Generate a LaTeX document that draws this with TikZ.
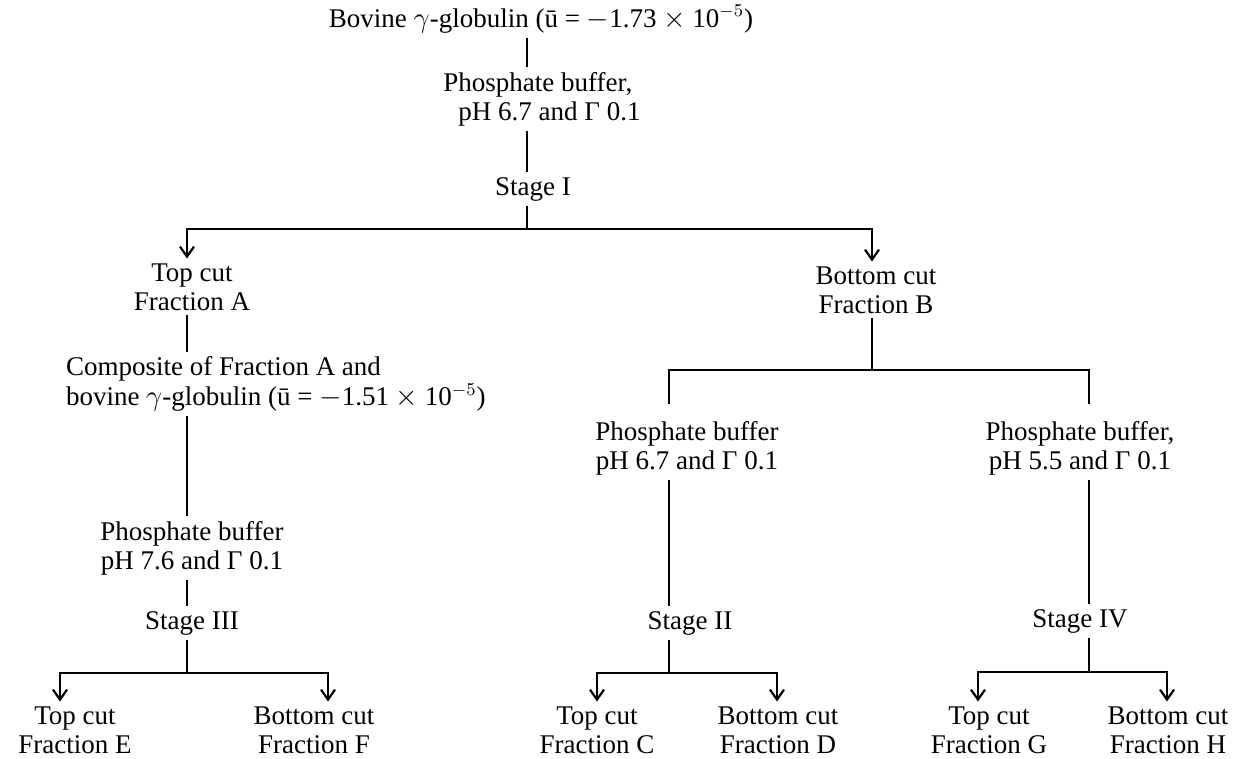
\documentclass[tikz,border=0pt]{standalone}
\usepackage{fontspec}
\setmainfont{Liberation Serif}
\usepackage{tikz}
\usetikzlibrary{arrows.meta}

\begin{document}
\begin{tikzpicture}[x=0.5pt, y=-0.5pt, line width=1pt,
        txt/.style={align=center, inner sep=2pt, font=\fontsize{13.5}{14.5}\selectfont},
        arr/.style={-{Straight Barb[length=5pt, width=7pt, line width=1.1pt]}}]
        \useasboundingbox (0,0) rectangle (1237,759);

        \node[txt] (bovine) at (541,19) {Bovine $\gamma$-globulin (ū = $-$1.73 $\times$ 10$^{-5}$)};
        \node[txt, align=left] (buf1) at (542,99) {Phosphate buffer,\\\hspace*{7.5pt}pH 6.7 and Γ 0.1};
        \node[txt] (stage1) at (533,189) {Stage I};

        \node[txt] (topA) at (192,287) {Top cut\\Fraction A};
        \node[txt] (botB) at (876,290) {Bottom cut\\Fraction B};

        \node[txt, align=left, anchor=west, font=\fontsize{13.5}{15}\selectfont] (compA) at (61,384) {Composite of Fraction A and\\bovine $\gamma$-globulin (ū = $-$1.51 $\times$ 10$^{-5}$)};
        \node[txt] (bufL) at (192,548) {Phosphate buffer\\pH 7.6 and Γ 0.1};
        \node[txt] (stage3) at (192,623) {Stage III};
        \node[txt] (fracE) at (75,730) {Top cut\\Fraction E};
        \node[txt] (fracF) at (314,730) {Bottom cut\\Fraction F};

        \node[txt] (bufC) at (687,448) {Phosphate buffer\\pH 6.7 and Γ 0.1};
        \node[txt] (stage2) at (690,623) {Stage II};
        \node[txt] (fracC) at (597,730) {Top cut\\Fraction C};
        \node[txt] (fracD) at (778,730) {Bottom cut\\Fraction D};

        \node[txt] (bufD) at (1080,448) {Phosphate buffer,\\pH 5.5 and Γ 0.1};
        \node[txt] (stage4) at (1080,621) {Stage IV};
        \node[txt] (fracG) at (989,730) {Top cut\\Fraction G};
        \node[txt] (fracH) at (1168,730) {Bottom cut\\Fraction H};

        \coordinate (jI) at (527,229);
        \coordinate (jB) at (872,370);
        \coordinate (jIII) at (187,673);
        \coordinate (jII) at (669,673);
        \coordinate (jIV) at (1089,672);
        \coordinate (cA) at (187,0);
        \coordinate (cB) at (872,0);
        \coordinate (cC) at (669,0);
        \coordinate (cD) at (1089,0);
        \coordinate (cE) at (60,0);
        \coordinate (cF) at (328,0);
        \coordinate (cCc) at (597,0);
        \coordinate (cDd) at (777,0);
        \coordinate (cG) at (978,0);
        \coordinate (cH) at (1167,0);

        \draw (bovine.south -| jI) -- (buf1.north -| jI);
        \draw (buf1.south -| jI) -- (stage1.north -| jI);
        \draw (stage1.south -| jI) -- (jI);
        \draw[arr] (jI) -| (topA.north -| cA);
        \draw[arr] (jI) -| (botB.north -| cB);

        \draw (topA.south -| cA) -- (compA.north -| cA);
        \draw (compA.south -| cA) -- (bufL.north -| cA);
        \draw (bufL.south -| cA) -- (stage3.north -| cA);
        \draw (stage3.south -| jIII) -- (jIII);
        \draw[arr] (jIII) -| (fracE.north -| cE);
        \draw[arr] (jIII) -| (fracF.north -| cF);

        \draw (botB.south -| jB) -- (jB);
        \draw[shorten >=6pt] (jB) -| (bufC.north -| cC);
        \draw[shorten >=6pt] (jB) -| (bufD.north -| cD);

        \draw (bufC.south -| cC) -- (stage2.north -| cC);
        \draw (stage2.south -| jII) -- (jII);
        \draw[arr] (jII) -| (fracC.north -| cCc);
        \draw[arr] (jII) -| (fracD.north -| cDd);

        \draw (bufD.south -| cD) -- (stage4.north -| cD);
        \draw (stage4.south -| jIV) -- (jIV);
        \draw[arr] (jIV) -| (fracG.north -| cG);
        \draw[arr] (jIV) -| (fracH.north -| cH);
    \end{tikzpicture}
\end{document}
